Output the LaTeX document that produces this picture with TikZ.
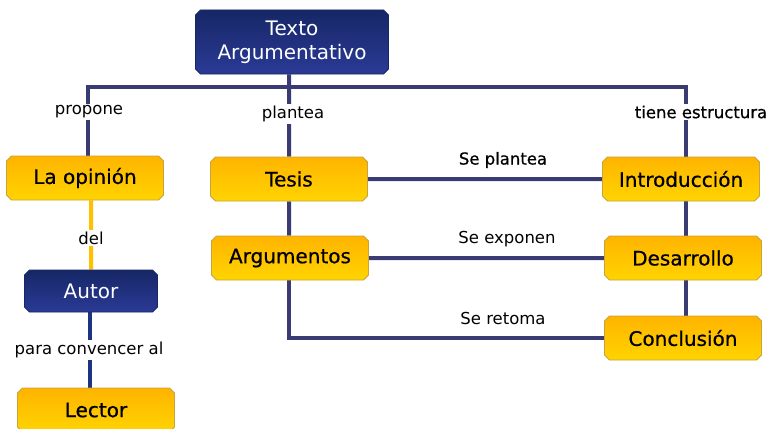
\documentclass[tikz,border=0pt]{standalone}
\usepackage{fontspec}
\setmainfont{DejaVu Sans}
\newfontfamily\heavyfont{DejaVu Sans}[BoldFont={DejaVu Sans}, BoldFeatures={FakeBold=0.7}]
\usetikzlibrary{shapes.misc,backgrounds}

\definecolor{navytop}{HTML}{162766}
\definecolor{navybot}{HTML}{2B3A96}
\definecolor{goldtop}{HTML}{FFB400}
\definecolor{goldbot}{HTML}{FFD400}
\definecolor{goldline}{HTML}{C9A23A}
\definecolor{linkcol}{HTML}{3A3B72}
\definecolor{autorlink}{HTML}{1F3480}
\definecolor{yellowlink}{HTML}{FFC000}

\begin{document}
\begin{tikzpicture}[x=1pt, y=-1pt,
    box/.style={chamfered rectangle, chamfered rectangle xsep=2.5pt, chamfered rectangle ysep=2.5pt,
        minimum width=157pt, minimum height=44pt, inner sep=2pt, draw=goldline, line width=0.8pt,
        top color=goldtop, bottom color=goldbot, text=black,
        font={\fontsize{20}{23}\selectfont\heavyfont\bfseries}},
    darkbox/.style={box, draw=navytop, top color=navytop, bottom color=navybot, text=white,
        font={\fontsize{20}{24}\selectfont}},
    link/.style={draw=linkcol, line width=4pt},
    lbl/.style={fill=white, inner sep=2pt, text=black, font={\fontsize{16.5}{19}\selectfont}},
    boldlbl/.style={lbl, font={\fontsize{16.5}{19}\selectfont\heavyfont\bfseries}}]

    % Frame of the picture
    \clip (0,0) rectangle (773,428);

    % Top node
    \node[darkbox, minimum width=193pt, minimum height=64pt, align=center] (texto) at (292,42)
        {Texto\\Argumentativo};

    % Left column
    \node[box] (opinion) at (85,178) {La opinión};
    \node[darkbox, minimum width=133pt, minimum height=42pt] (autor) at (91,291) {Autor};
    \node[box] (lector) at (96,410) {Lector};

    % Middle column
    \node[box] (tesis) at (289,179) {Tesis};
    \node[box] (argum) at (290,258) {Argumentos};

    % Right column
    \node[box] (intro) at (681,179) {Introducción};
    \node[box] (desarr) at (683,258) {Desarrollo};
    \node[box] (concl) at (683,338) {Conclusión};

    % Bar under the top node
    \coordinate (barR) at (686,87);

    % Connectors, behind the nodes
    \begin{scope}[on background layer]
    \fill[white] (0,0) rectangle (773,428);
    \draw[link] (texto.south -| tesis) -- (tesis);
    \draw[link] (opinion.north -| 88,0) |- (barR) -- (barR |- intro.north);
    \draw[link] (tesis) -- (intro);
    \draw[link] (tesis) -- (tesis |- argum.north);
    \draw[link] (argum) -- (desarr);
    \draw[link] (argum.south -| tesis) |- (concl);
    \draw[link] (barR |- intro.south) -- (barR |- concl.north);
    \draw[draw=yellowlink, line width=4pt] (autor) -- (autor |- opinion.south);
    \draw[draw=autorlink, line width=4pt] (autor.south -| 90,0) -- (lector.north -| 90,0);
    \end{scope}

    % Connector labels
    \node[lbl] (propone) at (89,112) {propone};
    \node[lbl] (plantea) at (293,114) {plantea};
    \node[boldlbl] (estruct) at (701,112) {tiene estructura};
    \node[lbl] (del) at (91,238) {del};
    \node[lbl] (convencer) at (89,350) {para convencer al};
    \node[boldlbl, fill=none] (seplantea) at (503,160) {Se plantea};
    \node[lbl, fill=none] (seexponen) at (507,239) {Se exponen};
    \node[lbl, fill=none] (seretoma) at (503,318) {Se retoma};

\end{tikzpicture}
\end{document}
